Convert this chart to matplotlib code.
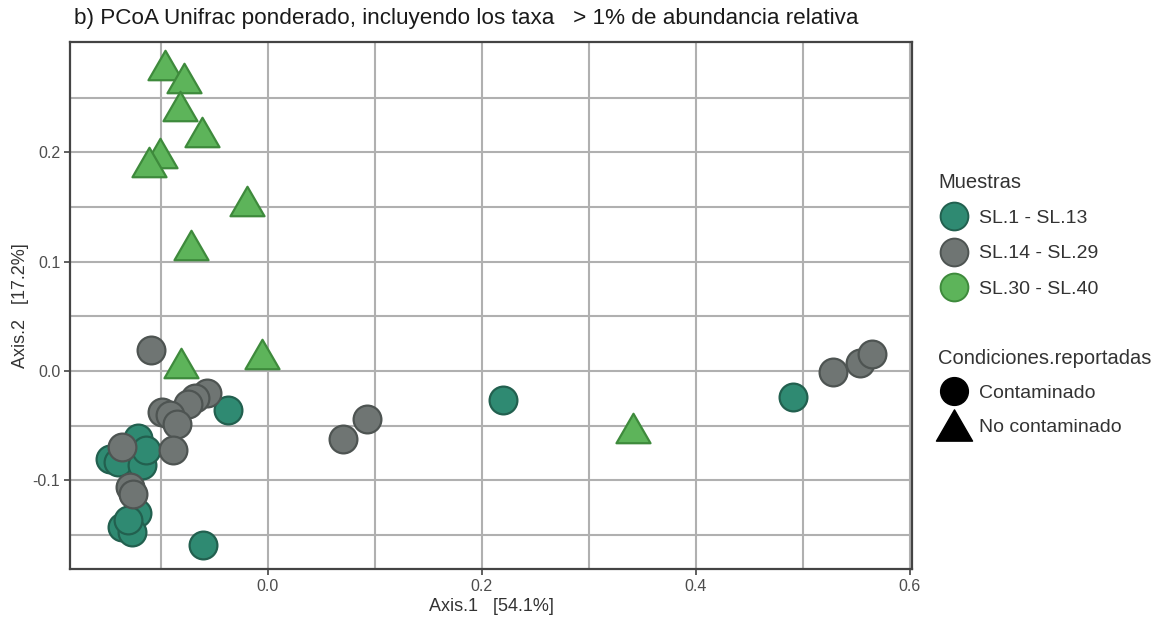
import matplotlib
matplotlib.use("Agg")
import matplotlib.pyplot as plt
from matplotlib.lines import Line2D
from matplotlib.path import Path
import numpy as np

plt.rcParams['font.family'] = ['Liberation Sans', 'DejaVu Sans']

# PCoA coordinates per sample group
teal_x = [-0.037, -0.121, -0.148, -0.140, -0.118, -0.122, -0.136, -0.127,
          -0.061, 0.220, 0.491, -0.131, -0.114]
teal_y = [-0.036, -0.061, -0.081, -0.083, -0.086, -0.130, -0.143, -0.147,
          -0.159, -0.027, -0.024, -0.136, -0.072]

grey_x = [-0.109, -0.057, -0.068, -0.075, -0.099, -0.092, -0.085, -0.089,
          -0.136, -0.129, -0.126, 0.070, 0.093, 0.528, 0.553, 0.565]
grey_y = [0.019, -0.020, -0.025, -0.030, -0.038, -0.040, -0.049, -0.072,
          -0.070, -0.106, -0.113, -0.062, -0.044, -0.001, 0.007, 0.015]

green_x = [-0.096, -0.078, -0.082, -0.062, -0.101, -0.111, -0.020, -0.072,
           -0.081, -0.006, 0.341]
green_y = [0.280, 0.268, 0.242, 0.218, 0.199, 0.191, 0.155, 0.115,
           0.007, 0.015, -0.052]

group_labels = ["SL.1 - SL.13", "SL.14 - SL.29", "SL.30 - SL.40"]
condition_labels = ["Contaminado", "No contaminado"]

x_ticks = [0.0, 0.2, 0.4, 0.6]
y_ticks = [-0.1, 0.0, 0.1, 0.2]

teal_fill, teal_edge = "#2f8a72", "#22604f"
grey_fill, grey_edge = "#6f7573", "#4e5452"
green_fill, green_edge = "#5db45a", "#3e8a3c"

# equilateral triangle marker
tri = Path([(-1, -0.866), (1, -0.866), (0, 0.866), (-1, -0.866)],
           [Path.MOVETO, Path.LINETO, Path.LINETO, Path.CLOSEPOLY])

fig = plt.figure(figsize=(11.67, 6.23), dpi=100)
ax = fig.add_axes([0.060, 0.087, 0.7215, 0.846])

circle_size = 400
tri_size = 600
ax.scatter(teal_x, teal_y, s=circle_size, c=teal_fill, edgecolors=teal_edge,
           linewidths=1.6, zorder=3)
ax.scatter(grey_x, grey_y, s=circle_size, c=grey_fill, edgecolors=grey_edge,
           linewidths=1.6, zorder=3)
ax.scatter(green_x, green_y, s=tri_size, marker=tri, c=green_fill,
           edgecolors=green_edge, linewidths=1.6, zorder=3)

ax.set_xlim(-0.185, 0.602)
ax.set_ylim(-0.181, 0.301)
ax.set_xticks(x_ticks)
ax.set_xticklabels([f"{v:.1f}" for v in x_ticks])
ax.set_yticks(y_ticks)
ax.set_yticklabels([f"{v:.1f}" for v in y_ticks])
ax.set_xticks(np.arange(-0.1, 0.6, 0.2), minor=True)
ax.set_yticks(np.arange(-0.15, 0.3, 0.1), minor=True)
ax.grid(True, which='both', color='#b0b0b0', linewidth=1.5, zorder=0)
ax.set_axisbelow(True)
ax.tick_params(which='minor', length=0)
ax.tick_params(which='major', length=4, width=1.2, color='#444444',
               labelsize=11.5, labelcolor='#4d4d4d', pad=3)
for sp in ax.spines.values():
    sp.set_color('#444444')
    sp.set_linewidth(1.6)

ax.set_xlabel("Axis.1   [54.1%]", fontsize=13, color='#333333', labelpad=3)
ax.set_ylabel("Axis.2   [17.2%]", fontsize=13, color='#333333', labelpad=3)
ax.set_title("b) PCoA Unifrac ponderado, incluyendo los taxa   > 1% de abundancia relativa",
             loc='left', fontsize=16.2, color='#1a1a1a', pad=12.5, x=0.005)

# legends
group_handles = [
    Line2D([], [], marker='o', linestyle='none', markersize=20,
           markerfacecolor=f, markeredgecolor=e, markeredgewidth=1.4)
    for f, e in [(teal_fill, teal_edge), (grey_fill, grey_edge),
                 (green_fill, green_edge)]
]
leg_kw = dict(loc='upper left', frameon=False, fontsize=14, title_fontsize=14.5,
              handletextpad=0.5, borderaxespad=0, borderpad=0,
              alignment='left', handlelength=1.6)
leg1 = fig.legend(group_handles, group_labels, title="Muestras",
                  bbox_to_anchor=(0.804, 0.722), labelspacing=0.9, **leg_kw)
cond_handles = [
    Line2D([], [], marker='o', linestyle='none', markersize=20,
           markerfacecolor='black', markeredgecolor='black'),
    Line2D([], [], marker=tri, linestyle='none', markersize=26,
           markerfacecolor='black', markeredgecolor='black'),
]
leg2 = fig.legend(cond_handles, condition_labels, title="Condiciones.reportadas",
                  bbox_to_anchor=(0.804, 0.440), labelspacing=0.85, **leg_kw)
for leg in (leg1, leg2):
    for t in leg.get_texts():
        t.set_color('#333333')
    leg.get_title().set_color('#333333')

fig.savefig("out.png", dpi=100)
